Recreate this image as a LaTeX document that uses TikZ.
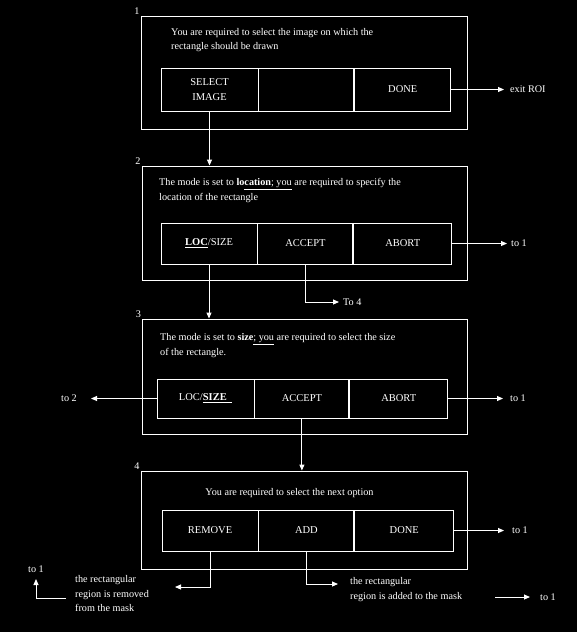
\documentclass[tikz,border=0pt]{standalone}
\usepackage{fontspec}
\setmainfont{Liberation Serif}
\usepackage{xcolor}
\usetikzlibrary{positioning, arrows.meta}
\definecolor{screenbg}{HTML}{000000}
\definecolor{wireline}{HTML}{FFFFFF}

\begin{document}
\begin{tikzpicture}[x=1pt, y=-1pt,
    every node/.style={text=wireline, font=\fontsize{10.2}{14.5}\selectfont},
    panel/.style={draw=wireline, line width=0.9pt, inner sep=0pt},
    button/.style={draw=wireline, line width=0.9pt, inner sep=0pt, align=center,
                   font=\fontsize{10.5}{15}\selectfont},
    tag/.style={inner sep=1pt},
    link/.style={draw=wireline, line width=0.9pt, -{Triangle[length=6pt, width=5pt]}}]
  \useasboundingbox (0,0) rectangle (577,632);
  \fill[screenbg] (0,0) rectangle (577,632);

  % panel 1
  \node[panel, minimum width=326pt, minimum height=113pt] (panel1) at (304,72.5) {};
  \node[tag, anchor=south east] (num1) at (panel1.north west) {1};
  \node[tag, anchor=north west, align=left, inner sep=0pt] (info1) at (171,28)
    {You are required to select the image on which the\\rectangle should be drawn};
  \node[button, minimum width=97pt, minimum height=43pt] (select1) at (209.5,89.5) {SELECT\\IMAGE};
  \node[button, minimum width=95pt, minimum height=43pt, right=0pt of select1] (blank1) {};
  \node[button, minimum width=96pt, minimum height=43pt, right=0pt of blank1] (done1) {DONE};

  % panel 2
  \node[panel, minimum width=325pt, minimum height=114pt] (panel2) at (304.5,223) {};
  \node[tag, anchor=south east] (num2) at (panel2.north west) {2};
  \node[tag, anchor=north west, align=left, inner sep=0pt] (info2) at (159,178.5)
    {The mode is set to \textbf{lo}\underline{\textbf{cation}; you} are required to specify the\\location of the rectangle};
  \node[button, minimum width=96pt, minimum height=41pt] (loc2) at (209,243.5) {\underline{\textbf{LOC}}/SIZE};
  \node[button, minimum width=95pt, minimum height=41pt, right=0pt of loc2] (accept2) {ACCEPT};
  \node[button, minimum width=98pt, minimum height=41pt, right=0pt of accept2] (abort2) {ABORT};

  % panel 3
  \node[panel, minimum width=325pt, minimum height=115pt] (panel3) at (305,376.5) {};
  \node[tag, anchor=south east] (num3) at (panel3.north west) {3};
  \node[tag, anchor=north west, align=left, inner sep=0pt] (info3) at (160,333.5)
    {The mode is set to \textbf{size}\underline{; you} are required to select the size\\of the rectangle.};
  \node[button, minimum width=97pt, minimum height=39pt] (loc3) at (205.5,398.5) {LOC/\underline{\textbf{SIZE}\ \ }};
  \node[button, minimum width=94pt, minimum height=39pt, right=0pt of loc3] (accept3) {ACCEPT};
  \node[button, minimum width=98pt, minimum height=39pt, right=0pt of accept3] (abort3) {ABORT};

  % panel 4
  \node[panel, minimum width=326pt, minimum height=98pt] (panel4) at (304,520) {};
  \node[tag, anchor=south east] (num4) at (panel4.north west) {4};
  \node[tag] (info4) at (289.5,493) {You are required to select the next option};
  \node[button, minimum width=96pt, minimum height=41pt] (remove4) at (210,530.5) {REMOVE};
  \node[button, minimum width=95pt, minimum height=41pt, right=0pt of remove4] (add4) {ADD};
  \node[button, minimum width=99pt, minimum height=41pt, right=0pt of add4] (done4) {DONE};

  % loose ends
  \coordinate (exittip) at (504,89.5);
  \coordinate (abort2tip) at (507,243.5);
  \coordinate (accept2tip) at (339,302);
  \coordinate (loc3tip) at (91,398.5);
  \coordinate (abort3tip) at (503,398.5);
  \coordinate (done4tip) at (504,530.5);
  \coordinate (remove4tip) at (175,587);
  \coordinate (add4tip) at (338,584);
  \coordinate (backstart) at (66,598);
  \coordinate (backtip) at (36,579);
  \coordinate (tailstart) at (495,597);
  \coordinate (tailtip) at (530,597);

  \node[tag, right=5pt of exittip] (exitroi) {exit ROI};
  \node[tag, right=3pt of abort2tip] (goone2) {to 1};
  \node[tag, right=3pt of accept2tip] (gofour) {To 4};
  \node[tag, left=13pt of loc3tip] (gotwo) {to 2};
  \node[tag, right=6pt of abort3tip] (goone3) {to 1};
  \node[tag, right=7pt of done4tip] (goone4) {to 1};
  \node[tag, above=5pt of backtip] (goback) {to 1};
  \node[tag, right=9pt of tailtip] (gotail) {to 1};
  \node[tag, anchor=north west, align=left, inner sep=0pt] (removenote) at (75,575.5)
    {the rectangular\\region is removed\\from the mask};
  \node[tag, anchor=north west, align=left, inner sep=0pt] (addnote) at (350,577.5)
    {the rectangular\\region is added to the mask};

  % connectors
  \draw[link] (select1.south) -- (select1.south |- panel2.north);
  \draw[link] (done1.east) -- (exittip);
  \draw[link] (abort2.east) -- (abort2tip);
  \draw[link] (accept2.south) |- (accept2tip);
  \draw[link] (loc2.south) -- (loc2.south |- panel3.north);
  \draw[link] (loc3.west) -- (loc3tip);
  \draw[link] (abort3.east) -- (abort3tip);
  \draw[link] (accept3.south) -- (accept3.south |- panel4.north);
  \draw[link] (done4.east) -- (done4tip);
  \draw[link] (remove4.south) |- (remove4tip);
  \draw[link] (add4.south) |- (add4tip);
  \draw[link] (backstart) -| (backtip);
  \draw[link] (tailstart) -- (tailtip);
\end{tikzpicture}
\end{document}
